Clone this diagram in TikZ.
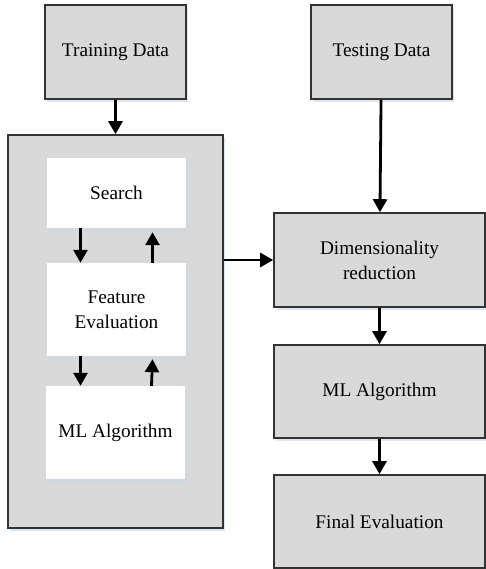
\documentclass[tikz,border=0pt]{standalone}
\usepackage{fontspec}
\setmainfont{Liberation Serif}
\usetikzlibrary{
  arrows.meta,
  positioning,
  calc,
  shadows
}
\definecolor{fsGrey}{HTML}{D9D9D9}
\definecolor{fsEdge}{HTML}{333333}
\definecolor{fsShade}{HTML}{C9D6E8}
\tikzset{
  fsnode/.style={
    minimum width=139pt, minimum height=93pt, align=center,
    font=\fontsize{19.3}{25}\selectfont, inner sep=0pt,
    drop shadow={shadow xshift=2pt, shadow yshift=-3pt, fill=fsShade, opacity=0.6}
  },
  databox/.style={fsnode, draw=fsEdge, fill=fsGrey, line width=1.6pt, minimum width=141pt, minimum height=94pt},
  stagebox/.style={fsnode, draw=fsEdge, fill=fsGrey, line width=1.6pt, minimum width=211pt},
  innerbox/.style={fsnode, fill=white},
  wrapper/.style={draw=fsEdge, fill=fsGrey, line width=1.6pt, minimum width=215pt, minimum height=393pt,
    drop shadow={shadow xshift=2pt, shadow yshift=-3pt, fill=fsShade, opacity=0.6}},
  flow/.style={-{Triangle[length=13pt, width=14pt]}, line width=2.8pt, black}
}
\begin{document}
\begin{tikzpicture}[x=1pt, y=-1pt]
  \useasboundingbox (0,0) rectangle (486,569);
  % left column: feature selection loop
  \node[databox] (train) at (115.5,52) {Training Data};
  \node[wrapper] (wrap) at (115.5,331.5) {};
  \node[innerbox, minimum height=70pt] (search) at (116.5,193) {Search};
  \node[innerbox] (feat) at (116.5,309.5) {Feature\\Evaluation};
  \node[innerbox] (mlin) at (115.5,432.5) {ML Algorithm};
  % right column: testing
  \node[databox] (test) at (381.5,52) {Testing Data};
  \node[stagebox, minimum height=94pt] (dim) at (379.5,260) {Dimensionality\\reduction};
  \node[stagebox] (mlout) at (379.5,391.5) {ML Algorithm};
  \node[stagebox] (final) at (379.5,521.5) {Final Evaluation};
  \draw[flow] (train) -- (wrap);
  \draw[flow] ([xshift=-36pt]search.south) -- ([xshift=-36pt]feat.north);
  \draw[flow] ([xshift=36pt]feat.north) -- ([xshift=36pt,yshift=-4pt]search.south);
  \draw[flow] ([xshift=-36pt]feat.south) -- ([xshift=-35pt]mlin.north);
  \draw[flow] ([xshift=36pt]mlin.north) -- ([xshift=36pt,yshift=-3pt]feat.south);
  \draw[flow] (test) -- (dim);
  \draw[flow] (wrap.east |- dim) -- (dim);
  \draw[flow] (dim) -- (mlout);
  \draw[flow] (mlout) -- (final);
\end{tikzpicture}
\end{document}
